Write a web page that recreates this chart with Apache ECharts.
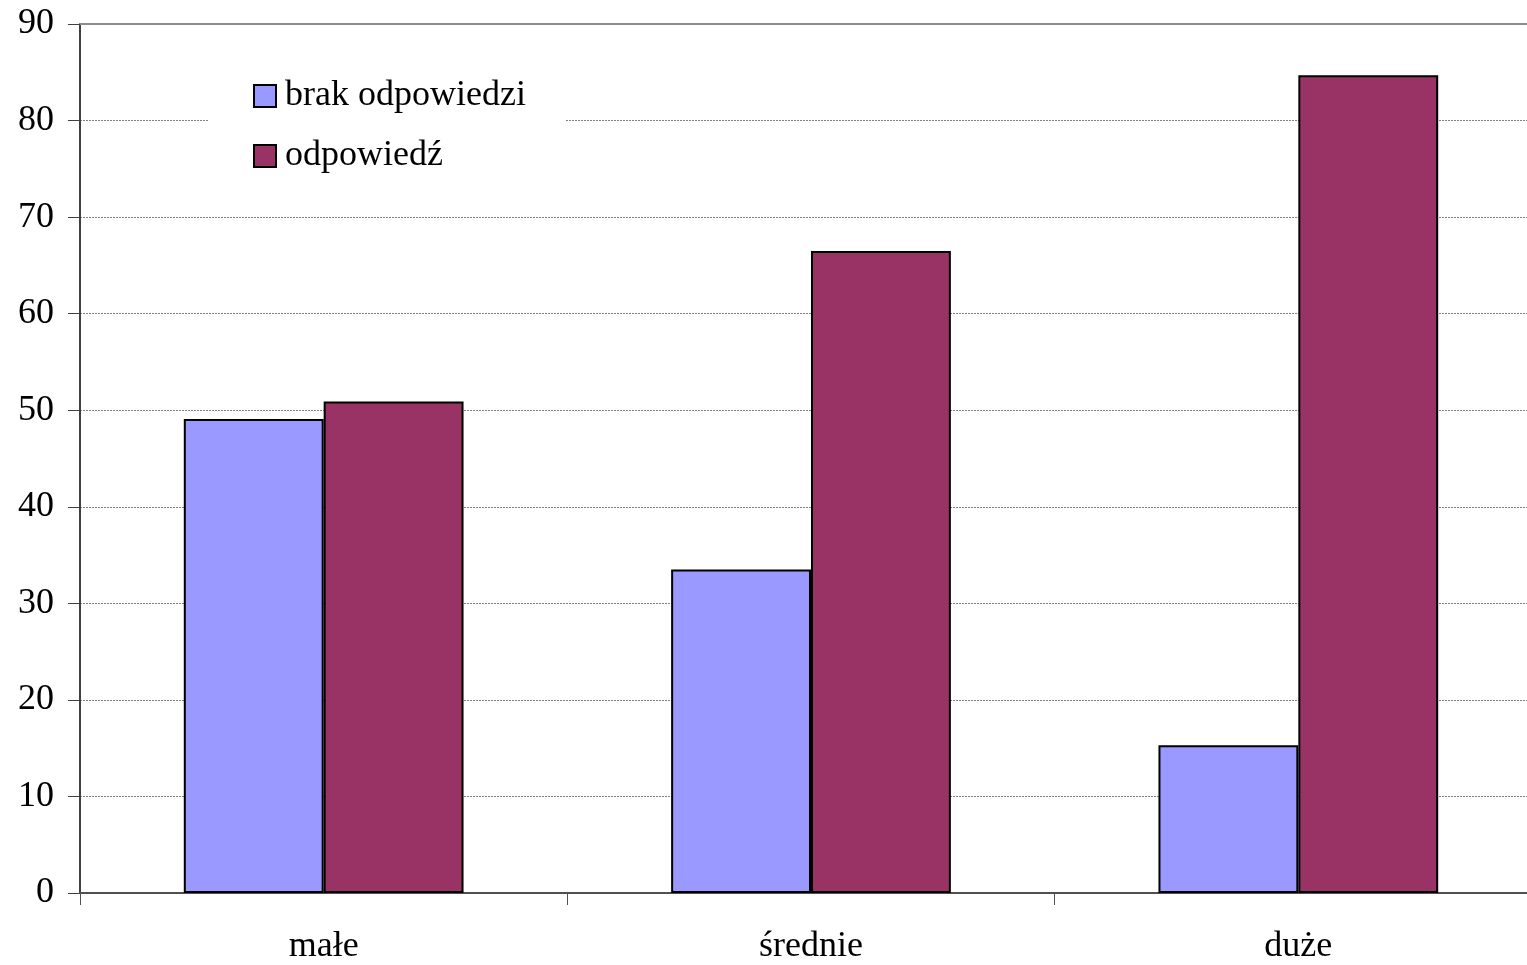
<!DOCTYPE html>
<html>
<head>
<meta charset="utf-8">
<script src="https://cdn.jsdelivr.net/npm/echarts@6/dist/echarts.min.js"></script>
<style>
  html, body { margin: 0; padding: 0; background: #fff; overflow: hidden; width: 1527px; height: 965px; }
  /* the plot area runs a little past the right edge of the page */
  #chart { width: 1542px; height: 965px; }
</style>
</head>
<body>
<div id="chart"></div>
<script>
// Response share by category
const categories = ['małe', 'średnie', 'duże'];
const seriesNames = ['brak odpowiedzi', 'odpowiedź'];
const noAnswer = [49.1, 33.5, 15.3];
const answer = [50.9, 66.5, 84.7];

const FONT = '"Liberation Serif", "DejaVu Serif", serif';

const chart = echarts.init(document.getElementById('chart'), null, { renderer: 'canvas' });

chart.setOption({
  animation: false,
  backgroundColor: '#ffffff',
  grid: { left: 80, right: 0, top: 24, bottom: 72, containLabel: false },
  legend: {
    data: seriesNames,
    orient: 'vertical',
    left: 208,
    top: 70,
    padding: [8, 40, 8, 45],
    backgroundColor: '#ffffff',
    itemWidth: 22,
    itemHeight: 22,
    itemGap: 24,
    icon: 'rect',
    itemStyle: { borderColor: '#000', borderWidth: 2 },
    textStyle: { fontFamily: FONT, fontSize: 36, color: '#000', padding: [0, 0, 0, 4] }
  },
  xAxis: [{
    type: 'category',
    data: categories,
    position: 'bottom',
    axisLine: { lineStyle: { color: '#505050', width: 2 } },
    axisTick: { show: true, length: 12, alignWithLabel: false, lineStyle: { color: '#505050', width: 1 } },
    axisLabel: { fontFamily: FONT, fontSize: 36, color: '#000', margin: 36 },
    splitLine: { show: false }
  }, {
    type: 'category',
    data: categories,
    position: 'top',
    axisLine: { lineStyle: { color: '#8c8c8c', width: 2 } },
    axisTick: { show: false },
    axisLabel: { show: false }
  }],
  yAxis: {
    type: 'value',
    min: 0,
    max: 90,
    interval: 10,
    axisLine: { show: true, lineStyle: { color: '#404040', width: 2 } },
    axisTick: { show: true, length: 12, lineStyle: { color: '#404040', width: 1 } },
    axisLabel: { fontFamily: FONT, fontSize: 36, color: '#000', margin: 26 },
    splitLine: { show: true, lineStyle: { color: '#808080', width: 1, type: [2, 1] } }
  },
  series: [{
    name: seriesNames[0],
    type: 'bar',
    data: noAnswer,
    barGap: '0%',
    barCategoryGap: '42.6%',
    itemStyle: { color: '#9999FF', borderColor: '#000', borderWidth: 2 }
  }, {
    name: seriesNames[1],
    type: 'bar',
    data: answer,
    barGap: '0%',
    barCategoryGap: '42.6%',
    itemStyle: { color: '#993366', borderColor: '#000', borderWidth: 2 }
  }]
});
</script>
</body>
</html>
